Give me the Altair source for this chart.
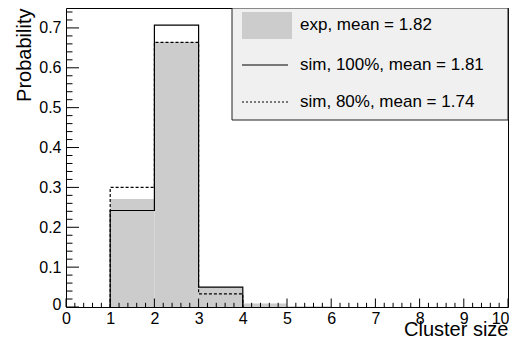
import altair as alt
import pandas as pd

# ---- data ----
bin_lo = [1, 2, 3, 4, 5]
exp_vals = [0.271, 0.665, 0.050, 0.0085, 0.002]
sim100_vals = [0.242, 0.707, 0.050, 0.0, 0.0]
sim80_vals = [0.300, 0.664, 0.033, 0.0, 0.0]
legend_labels = ["exp, mean = 1.82", "sim, 100%, mean = 1.81", "sim, 80%, mean = 1.74"]
x_major = list(range(0, 11))
y_major = [0, 0.1, 0.2, 0.3, 0.4, 0.5, 0.6, 0.7]
x_minor = [i / 5 for i in range(0, 51) if i % 5]
y_minor = [i / 50 for i in range(0, 38) if i % 5]

FONT = "Liberation Sans"
W, H = 442, 299

xscale = alt.Scale(domain=[0, 10], nice=False, zero=False)
yscale = alt.Scale(domain=[0, 0.75], nice=False)

XAXIS = alt.Axis(values=x_major, format="d", ticks=False, tickSize=0,
                 domain=False, grid=False, labelPadding=3,
                 labelAlign={"condition": {"test": "datum.value === 10", "value": "right"}, "value": "center"},
                 labelOffset={"condition": {"test": "datum.value === 10", "value": 1}, "value": 0},
                 labelFont=FONT, labelFontSize=16, labelColor="black",
                 title="Cluster size", titleFont=FONT, titleFontSize=20,
                 titleFontWeight="normal", titleColor="black",
                 titleAlign="right", titleAnchor="end",
                 titleBaseline="alphabetic", titleX=W, titleY=28)
YAXIS = alt.Axis(values=y_major, ticks=False, tickSize=0, domain=False,
                 grid=False, labelPadding=5,
                 labelExpr="datum.value == 0 ? '0' : format(datum.value, '.1f')",
                 labelOffset={"condition": {"test": "datum.value === 0", "value": -3}, "value": 0},
                 labelFont=FONT, labelFontSize=16, labelColor="black",
                 title="Probability", titleFont=FONT, titleFontSize=20,
                 titleFontWeight="normal", titleColor="black",
                 titleAngle=270, titleAlign="right", titleAnchor="end",
                 titleBaseline="alphabetic", titleX=-36, titleY=0)

exp_df = pd.DataFrame({
    "lo": bin_lo,
    "hi": [b + 1 for b in bin_lo],
    "p": exp_vals,
    "zero": [0.0] * len(bin_lo),
})


def step_df(vals):
    n = max(i for i, v in enumerate(vals) if v > 0) + 1
    xs = [bin_lo[0]] + bin_lo[:n] + [bin_lo[n - 1] + 1]
    ys = [0.0] + vals[:n] + [0.0]
    return pd.DataFrame({"lo": xs, "p": ys, "i": list(range(len(xs)))})


grey = alt.Chart(exp_df).mark_rect(color="#cccccc").encode(
    x=alt.X("lo:Q", scale=xscale, axis=XAXIS),
    x2="hi:Q",
    y=alt.Y("p:Q", scale=yscale, axis=YAXIS),
    y2="zero:Q",
)


def step_line(vals, dash=None):
    kw = dict(color="black", strokeWidth=1.2, interpolate="step-after")
    if dash:
        kw["strokeDash"] = dash
    return alt.Chart(step_df(vals)).mark_line(**kw).encode(
        x=alt.X("lo:Q", scale=xscale, axis=XAXIS),
        y=alt.Y("p:Q", scale=yscale, axis=YAXIS),
        order="i:O",
    )


line80 = step_line(sim80_vals, dash=[3, 2])
line100 = step_line(sim100_vals)


def tick_layer(vals, axis, length):
    if axis == "y":
        df = pd.DataFrame({"p": vals})
        return alt.Chart(df).mark_rule(color="black", strokeWidth=1).encode(
            y=alt.Y("p:Q", scale=yscale, axis=YAXIS),
            x=alt.value(0), x2=alt.value(length))
    df = pd.DataFrame({"lo": vals})
    return alt.Chart(df).mark_rule(color="black", strokeWidth=1).encode(
        x=alt.X("lo:Q", scale=xscale, axis=XAXIS),
        y=alt.value(H), y2=alt.value(H - length))


ticks = [
    tick_layer(y_major, "y", 13),
    tick_layer(y_minor, "y", 6.5),
    tick_layer(x_major, "x", 8.5),
    tick_layer(x_minor, "x", 4.2),
]

one = pd.DataFrame({"a": [0]})
leg_box = alt.Chart(one).mark_rect(fill="#f0f0f0", stroke="#222222", strokeWidth=1).encode(
    x=alt.value(166), x2=alt.value(442), y=alt.value(0), y2=alt.value(112))
leg_fill = alt.Chart(one).mark_rect(fill="#cccccc").encode(
    x=alt.value(176), x2=alt.value(226), y=alt.value(4), y2=alt.value(31))
leg_solid = alt.Chart(one).mark_rule(color="black", strokeWidth=1.2).encode(
    x=alt.value(176), x2=alt.value(222), y=alt.value(57))
leg_dot = alt.Chart(one).mark_rule(color="black", strokeWidth=1, strokeDash=[2, 2]).encode(
    x=alt.value(176), x2=alt.value(222), y=alt.value(94))

leg_texts = []
for lab, yy in zip(legend_labels, [17, 57, 94]):
    leg_texts.append(
        alt.Chart(one).mark_text(text=lab, align="left", baseline="middle",
                                 font=FONT, fontSize=17, color="black").encode(
            x=alt.value(234), y=alt.value(yy)))

chart = alt.layer(
    grey, line80, line100, *ticks, leg_box, leg_fill, leg_solid, leg_dot, *leg_texts
).properties(
    width=W, height=H,
    autosize="none",
    padding={"left": 58, "top": 0, "right": 1, "bottom": 31},
).configure_view(stroke="black", strokeWidth=1)

chart.save("out.html", embed_options={"renderer": "svg", "actions": False})
